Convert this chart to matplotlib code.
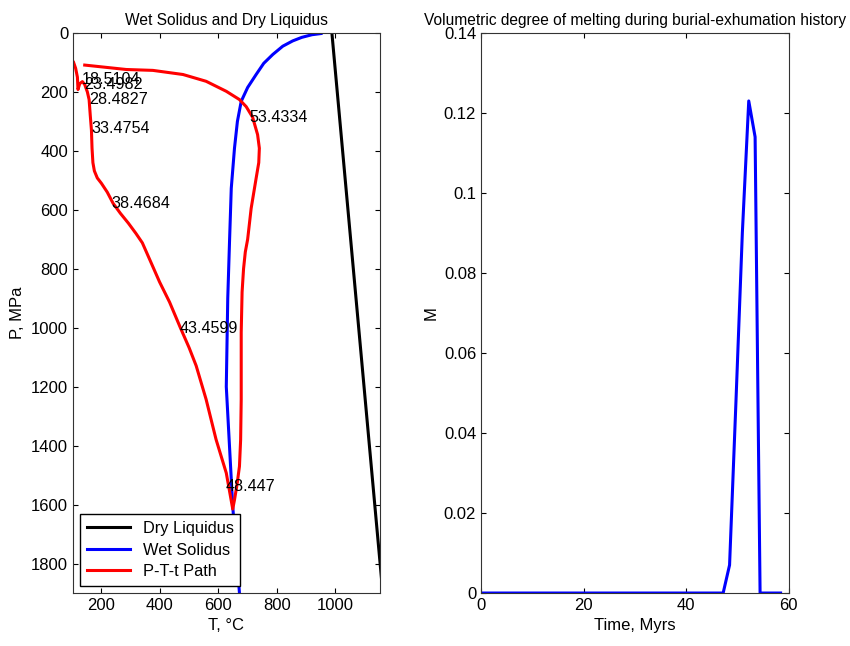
import numpy as np
import matplotlib.pyplot as plt

plt.rcParams['font.family'] = ['Liberation Sans', 'DejaVu Sans']
plt.rcParams['font.size'] = 12

# Dry liquidus (T in C, P in MPa)
liq_T = [988, 1162]
liq_P = [0, 1900]

# Wet solidus
sol_T = [951, 920, 885, 854, 820, 786, 755, 729, 700, 678, 665, 655, 644, 638, 632, 627, 649, 672]
sol_P = [2, 6, 15, 27, 45, 73, 103, 141, 185, 232, 300, 391, 527, 709, 900, 1200, 1606, 1900]

# P-T-t path
path_T = [105, 112, 118, 120, 126, 135, 143, 152, 158, 162, 166, 168, 171, 176, 186, 200,
          220, 240, 265, 292, 318, 340, 368, 399, 433, 470, 500, 524, 558, 592, 627, 649,
          655, 664, 672, 676, 678, 678, 681, 686, 692, 700, 712, 729, 738, 740, 734, 717,
          695, 672, 627, 558, 479, 376, 285, 143]
path_P = [100, 120, 150, 192, 172, 165, 175, 200, 226, 280, 330, 391, 440, 468, 492, 510,
          540, 578, 612, 645, 680, 712, 775, 845, 913, 1000, 1068, 1129, 1243, 1379, 1493, 1615,
          1584, 1530, 1470, 1380, 1243, 1016, 879, 800, 743, 700, 595, 493, 440, 391, 345, 286,
          250, 226, 198, 164, 141, 127, 124, 109]

# time labels along the path
lab_t = ['18.5104', '23.4982', '28.4827', '33.4754', '38.4684', '43.4599', '48.447', '53.4334']
lab_T = [132, 143, 158, 166, 234, 467, 624, 706]
lab_P = [157, 175, 226, 323, 578, 1002, 1537, 286]

# melting degree vs time
time = [0, 47.2, 48.45, 49.7, 50.94, 52.19, 53.43, 54.4, 58.4]
melt = [0, 0, 0.007, 0.048, 0.09, 0.123, 0.114, 0, 0]

fig = plt.figure(figsize=(8.5, 6.46), dpi=100)

ax1 = fig.add_axes([0.0859, 0.082, 0.361, 0.867])
ax1.plot(liq_T, liq_P, color='black', lw=2.2, label='Dry Liquidus')
ax1.plot(sol_T, sol_P, color='blue', lw=2.2, label='Wet Solidus')
ax1.plot(path_T, path_P, color='red', lw=2.2, label='P-T-t Path')
for s, t, p in zip(lab_t, lab_T, lab_P):
    ax1.text(t, p, s, ha='left', va='center', fontsize=11.6)
ax1.set_xlim(103, 1152)
ax1.set_ylim(1900, 0)
ax1.set_xticks([200, 400, 600, 800, 1000])
ax1.set_yticks(np.arange(0, 1801, 200))
ax1.set_xlabel('T, °C')
ax1.set_ylabel('P, MPa')
ax1.set_title('Wet Solidus and Dry Liquidus', fontsize=11.2)
ax1.legend(loc='lower left', fancybox=False, edgecolor='black', framealpha=1,
           borderaxespad=0.45, handlelength=2.6, labelspacing=0.4, fontsize=11.8)

ax2 = fig.add_axes([0.566, 0.082, 0.362, 0.867])
ax2.plot(time, melt, color='blue', lw=2.2)
ax2.set_xlim(0, 60)
ax2.set_ylim(0, 0.14)
ax2.set_xticks([0, 20, 40, 60])
ax2.set_yticks(np.arange(0, 0.141, 0.02))
ax2.set_yticklabels(['0', '0.02', '0.04', '0.06', '0.08', '0.1', '0.12', '0.14'])
ax2.set_xlabel('Time, Myrs')
ax2.set_ylabel('M')
ax2.set_title('Volumetric degree of melting during burial-exhumation history', fontsize=11.2)

for ax in (ax1, ax2):
    ax.tick_params(direction='in', top=True, right=True, labelsize=12)
    for sp in ax.spines.values():
        sp.set_color('#333333')

fig.savefig('out.png', dpi=100)
